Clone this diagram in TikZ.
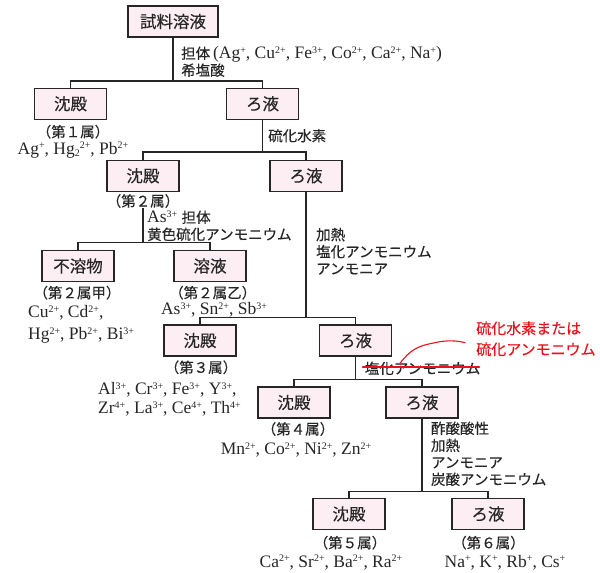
\documentclass[tikz,border=0pt]{standalone}
\usepackage{fontspec}
\setmainfont{Liberation Serif}
\newfontfamily\jp[FakeBold=0.3]{Noto Sans CJK JP}
\definecolor{boxfill}{HTML}{FCEEF3}
\definecolor{redink}{HTML}{E8121C}
\definecolor{ink}{HTML}{262626}
\newcommand{\J}[1]{{\jp\fontsize{14.5}{\baselineskip}\selectfont #1}}
\newcommand{\chg}[1]{\raisebox{5.5pt}{\fontsize{10}{10}\selectfont #1}}
\newcommand{\chs}[1]{\raisebox{-2.5pt}{\fontsize{10}{10}\selectfont #1}}
\tikzset{
  box/.style={draw=ink, line width=1.2pt, fill=boxfill, minimum width=72pt,
    minimum height=31pt, inner sep=0pt, text=ink, font=\jp\fontsize{16.5}{18}\selectfont},
  lbl/.style={inner sep=0pt, align=left, text=ink, font=\fontsize{17.5}{17}\selectfont},
  conn/.style={draw=ink, line width=1.1pt},
  redtext/.style={inner sep=0pt, align=left, text=redink, font=\jp\fontsize{15}{21}\selectfont},
  redline/.style={draw=redink, line width=1.1pt, line cap=round},
}
\begin{document}
\begin{tikzpicture}[x=1pt,y=-1pt]
\useasboundingbox (0,0) rectangle (600,573);
% boxes
\node[box, minimum width=90pt] (A) at (173,21.5) {試料溶液};
\node[box] (B1) at (70.5,103.7) {沈殿};
\node[box] (F1) at (262.5,103.7) {ろ液};
\node[box] (B2) at (143,175.8) {沈殿};
\node[box] (F2) at (306,175.8) {ろ液};
\node[box] (C) at (78,266) {不溶物};
\node[box] (D) at (210,266) {溶液};
\node[box] (B3) at (200,340.5) {沈殿};
\node[box] (F3) at (355.5,340.5) {ろ液};
\node[box] (B4) at (294,402.5) {沈殿};
\node[box] (F4) at (422,402.5) {ろ液};
\node[box] (B5) at (349,514) {沈殿};
\node[box] (F5) at (488,514) {ろ液};
% labels
\node[lbl, anchor=west] (t0) at (181,61.7) {\J{担体}\,(Ag\chg{+}, Cu\chg{2+}, Fe\chg{3+}, Co\chg{2+}, Ca\chg{2+}, Na\chg{+})\\\J{希塩酸}};
\node[lbl] (g1) at (73,131.7) {\J{（第１属）}};
\node[lbl] (i1) at (73,150) {Ag\chg{+}, Hg\chs{2}\chg{2+}, Pb\chg{2+}};
\node[lbl, anchor=west] (t1) at (268,135.7) {\J{硫化水素}};
\node[lbl] (g2) at (143,201) {\J{（第２属）}};
\node[lbl, anchor=west] (t2) at (147,225.8) {As\chg{3+} \J{担体}\\\J{黄色硫化アンモニウム}};
\node[lbl, anchor=west] (t3) at (316,251.3) {\J{加熱}\\\J{塩化アンモニウム}\\\J{アンモニア}};
\node[lbl] (g2a) at (77,292.7) {\J{（第２属甲）}};
\node[lbl, anchor=west, font=\fontsize{17.5}{22}\selectfont] (i2a) at (28,324.5) {Cu\chg{2+}, Cd\chg{2+},\\Hg\chg{2+}, Pb\chg{2+}, Bi\chg{3+}};
\node[lbl] (g2b) at (212.7,292.7) {\J{（第２属乙）}};
\node[lbl] (i2b) at (214,310) {As\chg{3+}, Sn\chg{2+}, Sb\chg{3+}};
\node[lbl] (g3) at (201,367.3) {\J{（第３属）}};
\node[lbl, anchor=west, font=\fontsize{17.5}{19}\selectfont] (i3) at (98,399.5) {Al\chg{3+}, Cr\chg{3+}, Fe\chg{3+}, Y\chg{3+},\\Zr\chg{4+}, La\chg{3+}, Ce\chg{4+}, Th\chg{4+}};
\node[lbl, anchor=west] (t4) at (364.6,368.3) {\J{塩化アンモニウム}};
\node[redtext, anchor=west] (r1) at (476,338.8) {硫化水素または\\硫化アンモニウム};
\node[lbl] (g4) at (298,429) {\J{（第４属）}};
\node[lbl] (i4) at (296,450) {Mn\chg{2+}, Co\chg{2+}, Ni\chg{2+}, Zn\chg{2+}};
\node[lbl, anchor=west] (t5) at (430.8,453.8) {\J{酢酸酸性}\\\J{加熱}\\\J{アンモニア}\\\J{炭酸アンモニウム}};
\node[lbl] (g5) at (350,542.7) {\J{（第５属）}};
\node[lbl] (i5) at (331,562.7) {Ca\chg{2+}, Sr\chg{2+}, Ba\chg{2+}, Ra\chg{2+}};
\node[lbl] (g6) at (488.5,542.7) {\J{（第６属）}};
\node[lbl] (i6) at (505,562.7) {Na\chg{+}, K\chg{+}, Rb\chg{+}, Cs\chg{+}};
% junctions
\coordinate (j1) at (173,81);
\coordinate (j2) at (262.5,152);
\coordinate (j3) at (143,242.7);
\coordinate (j4) at (306,317.3);
\coordinate (j5) at (355.5,379.3);
\coordinate (j6) at (422,491.7);
% connectors
\draw[conn] (A.south) -- (j1);
\draw[conn] (B1.north) |- (j1) -| (F1.north);
\draw[conn] (F1.south) -- (j2);
\draw[conn] (B2.north) |- (j2) -| (F2.north);
\draw[conn] (g2.south -| j3) -- (j3);
\draw[conn] (C.north) |- (j3) -| (D.north);
\draw[conn] (F2.south) -- (j4);
\draw[conn] (B3.north) |- (j4) -| (F3.north);
\draw[conn] (F3.south) -- (j5);
\draw[conn] (B4.north) |- (j5) -| (F4.north);
\draw[conn] (F4.south) -- (j6);
\draw[conn] (B5.north) |- (j6) -| (F5.north);
% red correction
\draw[redline] ([xshift=-2pt,yshift=1.3pt]t4.west) -- ([xshift=-1pt,yshift=1.3pt]t4.east);
\coordinate (rc) at ([xshift=-11pt,yshift=-3.8pt]r1.west);
\draw[redline] (400,363.3) .. controls (410,350) and (418,346) .. (432,343.3)
  .. controls (442,341) and (452,339.5) .. (rc);
\end{tikzpicture}
\end{document}
